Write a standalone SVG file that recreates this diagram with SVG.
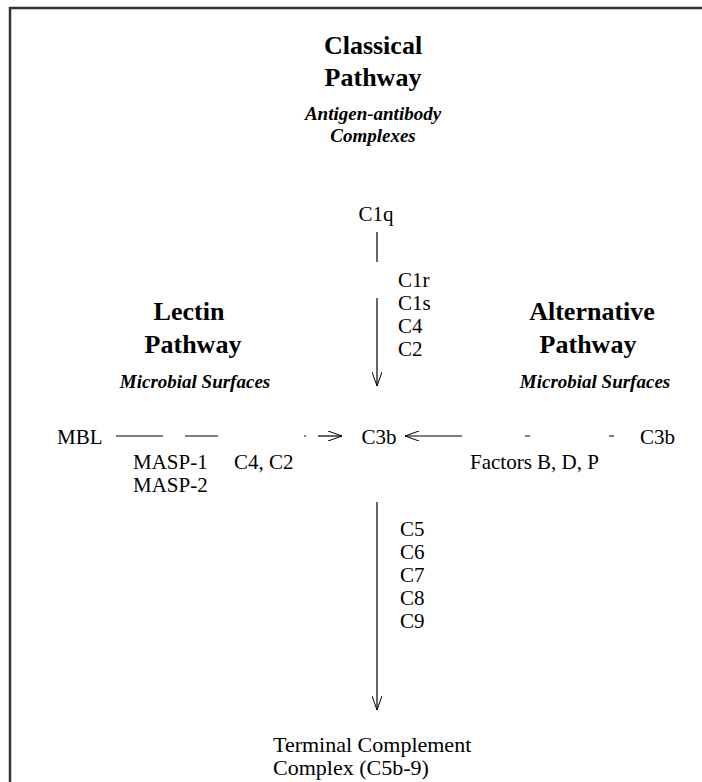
<svg xmlns="http://www.w3.org/2000/svg" width="702" height="782" viewBox="0 0 702 782">
<style>
text{font-family:"Liberation Serif","Times New Roman",serif;fill:#000}
.h{font-size:26px;font-weight:bold;text-anchor:middle}
.s{font-size:19px;font-weight:bold;font-style:italic;text-anchor:middle}
.t{font-size:21px}
.b{font-size:22px}
.ln{stroke:#000;stroke-width:1.2;fill:none}
.frame{stroke:#333;stroke-width:2.5;fill:none}
</style>
<defs>
<marker id="ah" viewBox="0 0 14 10" refX="14" refY="5" markerWidth="14" markerHeight="10" markerUnits="userSpaceOnUse" orient="auto">
<path d="M0,0 L14,5 L0,10" fill="none" stroke="#000" stroke-width="1"/>
</marker>
</defs>
<path class="frame" d="M10,782 V8 H702"/>
<g id="classical">
<text class="h" x="373" y="54">Classical</text>
<text class="h" x="373" y="86">Pathway</text>
<text class="s" x="373" y="120">Antigen-antibody</text>
<text class="s" x="373" y="142">Complexes</text>
</g>
<g id="c1q"><text class="t" x="376" y="221" text-anchor="middle">C1q</text></g>
<g id="c1-labels">
<text class="t" x="398" y="287">C1r</text>
<text class="t" x="398" y="310">C1s</text>
<text class="t" x="398" y="333">C4</text>
<text class="t" x="398" y="356">C2</text>
</g>
<g id="lectin">
<text class="h" x="189" y="320">Lectin</text>
<text class="h" x="193" y="353">Pathway</text>
<text class="s" x="195" y="388">Microbial Surfaces</text>
</g>
<g id="alternative">
<text class="h" x="592" y="320">Alternative</text>
<text class="h" x="588" y="353">Pathway</text>
<text class="s" x="595" y="388">Microbial Surfaces</text>
</g>
<g id="mbl"><text class="t" x="57" y="444">MBL</text></g>
<g id="masp">
<text class="t" x="133" y="469">MASP-1</text>
<text class="t" x="133" y="492">MASP-2</text>
<text class="t" x="234" y="469">C4, C2</text>
</g>
<g id="c3b"><text class="t" x="379" y="444" text-anchor="middle">C3b</text></g>
<g id="c3b-alt"><text class="t" x="640" y="444">C3b</text></g>
<g id="factors"><text class="t" x="470" y="469">Factors B, D, P</text></g>
<g id="c5-9">
<text class="t" x="400" y="536">C5</text>
<text class="t" x="400" y="559">C6</text>
<text class="t" x="400" y="582">C7</text>
<text class="t" x="400" y="605">C8</text>
<text class="t" x="400" y="628">C9</text>
</g>
<g id="tcc">
<text class="b" x="273" y="752">Terminal Complement</text>
<text class="b" x="273" y="775">Complex (C5b-9)</text>
</g>
<g id="connectors">
<path class="ln" d="M377,232 V262"/>
<path class="ln" d="M377,298 V386" marker-end="url(#ah)"/>
<path class="ln" d="M116,436 H163 M185,436 H218 M304,436 H306"/>
<path class="ln" d="M318,436 H342" marker-end="url(#ah)"/>
<path class="ln" d="M462,436 H405" marker-end="url(#ah)"/>
<path class="ln" d="M525,436 H530 M609,436 H614"/>
<path class="ln" d="M377,502 V710" marker-end="url(#ah)"/>
</g>
</svg>
